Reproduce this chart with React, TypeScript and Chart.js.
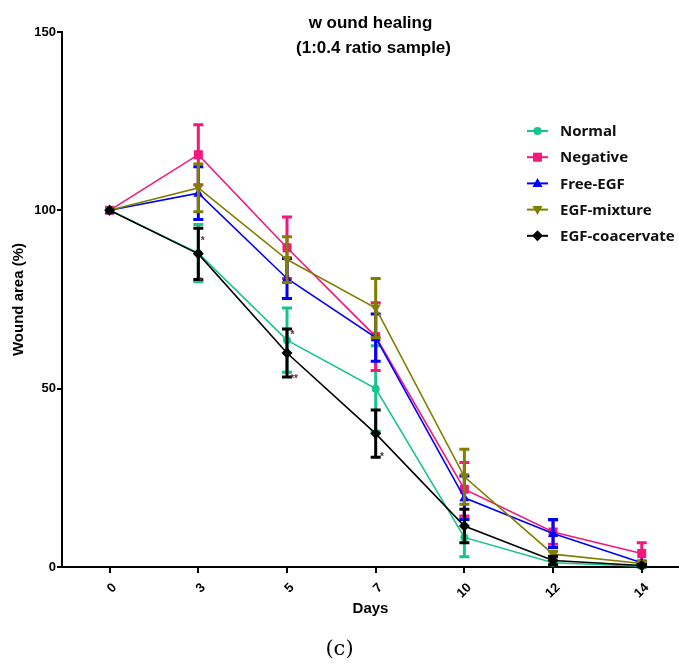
import React, { useEffect, useRef } from 'react';
import { Chart, registerables } from 'chart.js';

Chart.register(...registerables);

// ---- data ----
const days = ['0', '3', '5', '7', '10', '12', '14'];
const seriesNames = ['Normal', 'Negative', 'Free-EGF', 'EGF-mixture', 'EGF-coacervate'];
const normalMean = [100, 88, 63.6, 50, 8.3, 1.2, 0.2];
const normalErr = [0, 8, 9, 12, 5.4, 0.5, 0.3];
const negativeMean = [100, 115.6, 89.5, 64.6, 21.8, 9.8, 3.8];
const negativeErr = [0, 8.4, 8.6, 9.5, 7.5, 3.4, 3.0];
const freeEgfMean = [100, 104.8, 80.9, 64.3, 19.4, 9.4, 1.2];
const freeEgfErr = [0, 7.4, 5.6, 6.6, 6.1, 3.9, 0.5];
const mixtureMean = [100, 106.3, 86.2, 72.6, 25.3, 3.6, 1.0];
const mixtureErr = [0, 6.7, 6.4, 8.3, 7.7, 0.8, 0.3];
const coacervateMean = [100, 87.8, 60, 37.4, 11.5, 1.8, 0.4];
const coacervateErr = [0, 7.2, 6.7, 6.6, 4.7, 1.2, 0.3];
const yTicks = [0, 50, 100, 150];
const starX = [1.05, 1.03, 2.06, 2.08, 3.07];
const starY = [91.2, 79.7, 65, 52.7, 30.9];
const starText = ['*', '*', '*', '**', '*'];

const colors = ['#17c48c', '#f2187c', '#0000ff', '#808000', '#000000'];
const shapes = ['circle', 'rect', 'triangle', 'invtriangle', 'diamond'];
const means = [normalMean, negativeMean, freeEgfMean, mixtureMean, coacervateMean];
const errs = [normalErr, negativeErr, freeEgfErr, mixtureErr, coacervateErr];

function drawMarker(ctx: CanvasRenderingContext2D, shape: string, x: number, y: number, color: string) {
  ctx.save();
  ctx.fillStyle = color;
  ctx.beginPath();
  if (shape === 'circle') {
    ctx.arc(x, y, 4, 0, Math.PI * 2);
  } else if (shape === 'rect') {
    ctx.rect(x - 4.5, y - 4.5, 9, 9);
  } else if (shape === 'triangle') {
    ctx.moveTo(x, y - 5.5);
    ctx.lineTo(x + 5, y + 3.5);
    ctx.lineTo(x - 5, y + 3.5);
  } else if (shape === 'invtriangle') {
    ctx.moveTo(x, y + 5.5);
    ctx.lineTo(x + 5, y - 3.5);
    ctx.lineTo(x - 5, y - 3.5);
  } else {
    ctx.moveTo(x, y - 5.5);
    ctx.lineTo(x + 5.5, y);
    ctx.lineTo(x, y + 5.5);
    ctx.lineTo(x - 5.5, y);
  }
  ctx.closePath();
  ctx.fill();
  ctx.restore();
}

const errorBarPlugin = {
  id: 'errorBars',
  beforeDatasetDraw(chart: any, args: any) {
    const i = args.index;
    const ctx = chart.ctx;
    const yScale = chart.scales.y;
    const m = means[i];
    const e = errs[i];
    ctx.save();
    ctx.strokeStyle = colors[i];
    ctx.lineWidth = 3;
    args.meta.data.forEach((pt: any, j: number) => {
      if (!e[j]) return;
      const x = pt.x;
      const yt = yScale.getPixelForValue(m[j] + e[j]);
      const yb = yScale.getPixelForValue(Math.max(0, m[j] - e[j]));
      ctx.beginPath();
      ctx.moveTo(x, yt);
      ctx.lineTo(x, yb);
      ctx.moveTo(x - 5, yt);
      ctx.lineTo(x + 5, yt);
      ctx.moveTo(x - 5, yb);
      ctx.lineTo(x + 5, yb);
      ctx.stroke();
    });
    ctx.restore();
  },
  afterDatasetDraw(chart: any, args: any) {
    const i = args.index;
    const ctx = chart.ctx;
    args.meta.data.forEach((pt: any) => drawMarker(ctx, shapes[i], pt.x, pt.y, colors[i]));
  },
};

const decorPlugin = {
  id: 'decor',
  afterDraw(chart: any) {
    const ctx = chart.ctx;
    const area = chart.chartArea;
    const cx = (area.left + area.right) / 2;
    ctx.save();
    // title
    ctx.fillStyle = '#000';
    ctx.textAlign = 'center';
    ctx.textBaseline = 'middle';
    ctx.font = 'bold 17px "Liberation Sans", Arial, sans-serif';
    ctx.fillText('w ound healing', cx, 23);
    ctx.fillText('(1:0.4 ratio sample)', cx + 3, 48);
    // legend
    const lx = area.right - 152;
    seriesNames.forEach((name, i) => {
      const y = 131 + i * 26.2;
      ctx.strokeStyle = colors[i];
      ctx.lineWidth = 2;
      ctx.beginPath();
      ctx.moveTo(lx, y);
      ctx.lineTo(lx + 21, y);
      ctx.stroke();
      drawMarker(ctx, shapes[i], lx + 10.5, y, colors[i]);
      ctx.fillStyle = '#111';
      ctx.textAlign = 'left';
      ctx.textBaseline = 'middle';
      ctx.font = 'bold 15px "Noto Sans", sans-serif';
      ctx.fillText(name, lx + 33, y + 1);
    });
    // significance stars
    const xs = chart.scales.x;
    const ys = chart.scales.y;
    ctx.fillStyle = '#553344';
    ctx.font = 'bold 10px "Liberation Sans", sans-serif';
    ctx.textAlign = 'center';
    starX.forEach((sx, k) => {
      ctx.fillText(starText[k], xs.getPixelForValue(sx), ys.getPixelForValue(starY[k]));
    });
    ctx.restore();
  },
};

export default function App() {
  const ref = useRef<HTMLCanvasElement | null>(null);

  useEffect(() => {
    if (!ref.current) return;
    const tickFont = { family: '"Liberation Sans", Arial, sans-serif', size: 13, weight: 'bold' as const };
    const chart = new Chart(ref.current, {
      type: 'line',
      data: {
        datasets: seriesNames.map((name, i) => ({
          label: name,
          data: means[i].map((v, j) => ({ x: j, y: v })),
          borderColor: colors[i],
          backgroundColor: colors[i],
          borderWidth: 1.6,
          pointRadius: 0,
          tension: 0,
          fill: false,
          clip: false as any,
          order: 4 - i,
        })),
      },
      options: {
        responsive: false,
        animation: false,
        layout: { padding: { top: 32, right: 0, left: 0, bottom: 0 } },
        plugins: { legend: { display: false }, tooltip: { enabled: false }, title: { display: false } },
        scales: {
          x: {
            type: 'linear',
            min: -0.537,
            max: 6.42,
            afterBuildTicks: (s: any) => {
              s.ticks = days.map((_, i) => ({ value: i }));
            },
            afterFit: (s: any) => {
              s.height = 97;
            },
            ticks: {
              callback: (v: any) => days[v as number],
              minRotation: 45,
              maxRotation: 45,
              font: tickFont,
              color: '#000',
              padding: 7,
              labelOffset: 5,
            },
            grid: { drawOnChartArea: false, drawTicks: true, tickLength: 6, color: '#000', lineWidth: 2 },
            border: { display: true, color: '#000', width: 2 },
            title: {
              display: true,
              text: 'Days',
              color: '#000',
              font: { family: '"Liberation Sans", Arial, sans-serif', size: 15, weight: 'bold' },
              padding: { top: 0, bottom: 46 },
            },
          },
          y: {
            min: 0,
            max: 150,
            afterBuildTicks: (s: any) => {
              s.ticks = yTicks.map((v) => ({ value: v }));
            },
            afterFit: (s: any) => {
              s.width = 62;
            },
            ticks: { font: tickFont, color: '#000', padding: 1 },
            grid: { drawOnChartArea: false, drawTicks: true, tickLength: 5, color: '#000', lineWidth: 2 },
            border: { display: true, color: '#000', width: 2 },
            title: {
              display: true,
              text: 'Wound area (%)',
              color: '#000',
              font: { family: '"Liberation Sans", Arial, sans-serif', size: 15, weight: 'bold' },
              padding: { top: 10, bottom: 0 },
            },
          },
        },
      },
      plugins: [errorBarPlugin, decorPlugin],
    } as any);
    return () => chart.destroy();
  }, []);

  return (
    <div style={{ position: 'absolute', left: 0, top: 0, width: 679, height: 664, background: '#fff' }}>
      <canvas ref={ref} width={679} height={664} style={{ display: 'block' }} />
      <div
        style={{
          position: 'absolute',
          left: 0,
          width: 679,
          top: 634,
          textAlign: 'center',
          fontFamily: '"DejaVu Serif", serif',
          fontSize: 21,
          lineHeight: '28px',
          color: '#000',
        }}
      >
        (c)
      </div>
    </div>
  );
}
